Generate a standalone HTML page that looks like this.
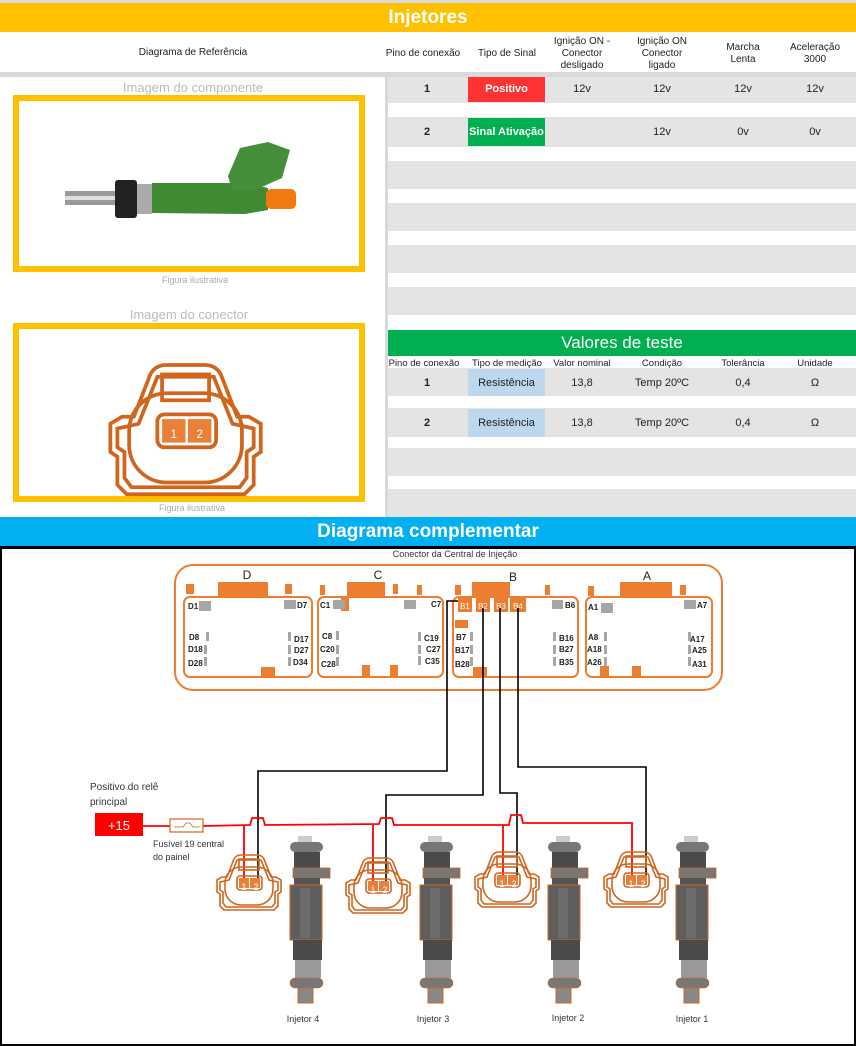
<!DOCTYPE html>
<html><head><meta charset="utf-8"><style>
*{margin:0;padding:0;box-sizing:border-box}
body{width:856px;height:1046px;position:relative;background:#fff;font-family:"Liberation Sans Narrow","Liberation Sans",sans-serif;overflow:hidden}
.a{position:absolute}
.c{position:absolute;text-align:center;font-size:10px;color:#222}
.g{background:#e4e4e4}
</style></head><body>
<div class="a" style="left:0;top:0;width:856px;height:3px;background:#d9d9d9"></div>
<div class="a" style="left:0;top:3px;width:856px;height:29px;background:#ffc000;color:#fff;font:bold 19px 'Liberation Sans',sans-serif;text-align:center;line-height:29px">Injetores</div>
<div class="a" style="left:0;top:72px;width:856px;height:5px;background:#d9d9d9"></div>
<div class="a" style="left:385px;top:72px;width:3px;height:446px;background:#d9d9d9"></div>
<div class="c" style="left:0;top:47px;width:386px">Diagrama de Referência</div>
<div class="c" style="left:385px;top:48px;width:76px">Pino de conexão</div>
<div class="c" style="left:468px;top:48px;width:78px">Tipo de Sinal</div>
<div class="c" style="left:546px;top:36px;width:72px;line-height:12px">Ignição ON -<br>Conector<br>desligado</div>
<div class="c" style="left:622px;top:36px;width:80px;line-height:12px">Ignição ON<br>Conector<br>ligado</div>
<div class="c" style="left:705px;top:42px;width:76px;line-height:12px">Marcha<br>Lenta</div>
<div class="c" style="left:780px;top:42px;width:70px;line-height:12px">Aceleração<br>3000</div>
<div class="a g" style="left:388px;top:77px;width:468px;height:26px"></div>
<div class="a g" style="left:388px;top:117px;width:468px;height:30px"></div>
<div class="a g" style="left:388px;top:161px;width:468px;height:28px"></div>
<div class="a g" style="left:388px;top:203px;width:468px;height:28px"></div>
<div class="a g" style="left:388px;top:245px;width:468px;height:28px"></div>
<div class="a g" style="left:388px;top:287px;width:468px;height:28px"></div>
<div class="a" style="left:468px;top:77px;width:77px;height:25px;background:#ff3333;color:#fff;font-size:11px;font-weight:bold;text-align:center;line-height:25px">Positivo</div>
<div class="a" style="left:468px;top:118px;width:77px;height:28px;background:#00b050;color:#fff;font-size:11px;font-weight:bold;text-align:center;line-height:28px">Sinal Ativação</div>
<div class="c" style="left:388px;top:83px;width:78px;font-weight:bold;font-size:11px">1</div>
<div class="c" style="left:546px;top:83px;width:72px;font-size:11px">12v</div>
<div class="c" style="left:622px;top:83px;width:80px;font-size:11px">12v</div>
<div class="c" style="left:705px;top:83px;width:76px;font-size:11px">12v</div>
<div class="c" style="left:780px;top:83px;width:70px;font-size:11px">12v</div>
<div class="c" style="left:388px;top:126px;width:78px;font-weight:bold;font-size:11px">2</div>
<div class="c" style="left:622px;top:126px;width:80px;font-size:11px">12v</div>
<div class="c" style="left:705px;top:126px;width:76px;font-size:11px">0v</div>
<div class="c" style="left:780px;top:126px;width:70px;font-size:11px">0v</div>
<div class="a" style="left:388px;top:330px;width:468px;height:26px;background:#00b050;color:#fff;font-size:17px;text-align:center;line-height:26px">Valores de teste</div>
<div class="a g" style="left:388px;top:368px;width:468px;height:28px"></div>
<div class="a g" style="left:388px;top:408px;width:468px;height:29px"></div>
<div class="a g" style="left:388px;top:448px;width:468px;height:28px"></div>
<div class="a g" style="left:388px;top:489px;width:468px;height:28px"></div>
<div class="c" style="left:385px;top:358px;width:78px;font-size:9.5px">Pino de conexão</div>
<div class="c" style="left:468px;top:358px;width:78px;font-size:9.5px">Tipo de medição</div>
<div class="c" style="left:546px;top:358px;width:72px;font-size:9.5px">Valor nominal</div>
<div class="c" style="left:622px;top:358px;width:80px;font-size:9.5px">Condição</div>
<div class="c" style="left:705px;top:358px;width:76px;font-size:9.5px">Tolerância</div>
<div class="c" style="left:780px;top:358px;width:70px;font-size:9.5px">Unidade</div>
<div class="a" style="left:468px;top:369px;width:77px;height:27px;background:#bdd7ee"></div>
<div class="a" style="left:468px;top:409px;width:77px;height:28px;background:#bdd7ee"></div>
<div class="c" style="left:388px;top:377px;width:78px;font-size:11px;font-weight:bold">1</div>
<div class="c" style="left:468px;top:377px;width:77px;font-size:11px">Resistência</div>
<div class="c" style="left:546px;top:377px;width:72px;font-size:11px">13,8</div>
<div class="c" style="left:622px;top:377px;width:80px;font-size:11px">Temp 20ºC</div>
<div class="c" style="left:705px;top:377px;width:76px;font-size:11px">0,4</div>
<div class="c" style="left:780px;top:377px;width:70px;font-size:11px">Ω</div>
<div class="c" style="left:388px;top:417px;width:78px;font-size:11px;font-weight:bold">2</div>
<div class="c" style="left:468px;top:417px;width:77px;font-size:11px">Resistência</div>
<div class="c" style="left:546px;top:417px;width:72px;font-size:11px">13,8</div>
<div class="c" style="left:622px;top:417px;width:80px;font-size:11px">Temp 20ºC</div>
<div class="c" style="left:705px;top:417px;width:76px;font-size:11px">0,4</div>
<div class="c" style="left:780px;top:417px;width:70px;font-size:11px">Ω</div>
<div class="c" style="left:0;top:80px;width:386px;font-size:13px;color:#bbb">Imagem do componente</div>
<div class="a" style="left:13px;top:95px;width:352px;height:177px;border:6px solid #ffc000"></div>
<div class="c" style="left:0;top:275px;width:390px;font-size:9px;color:#aaa">Figura ilustrativa</div>
<div class="c" style="left:0;top:307px;width:378px;font-size:13px;color:#bbb">Imagem do conector</div>
<div class="a" style="left:13px;top:323px;width:352px;height:179px;border:6px solid #ffc000"></div>
<div class="c" style="left:0;top:503px;width:384px;font-size:9px;color:#aaa">Figura ilustrativa</div>
<div class="a" style="left:0;top:517px;width:856px;height:30px;background:#00b0f0;color:#fff;font:bold 19px 'Liberation Sans',sans-serif;text-align:center;line-height:30px">Diagrama complementar</div>
<div class="a" style="left:0;top:546px;width:856px;height:500px;border:2px solid #000;border-top-width:3px"></div>
<svg class="a" style="left:0;top:0" width="856" height="1046" font-family="Liberation Sans,sans-serif">
<defs>
<g id="cn" fill="none" stroke="#d0651e" stroke-width="1.6">
<path d="M8,58 L4,54 L4,42 L1,40 L1,28 L6,25 L11,25 L18,7 Q20,3 25,3 L41,3 Q46,3 48,7 L55,25 L60,25 L65,28 L65,40 L62,42 L62,54 L58,58 Z"/>
<path d="M10,55 L7,51 L7,40 L4,38 L4,30 L13,28 L21,8 L45,8 L53,28 L62,30 L62,38 L59,40 L59,51 L56,55 Z"/>
<rect x="9" y="15" width="48" height="38" rx="16"/>
<rect x="23" y="7" width="20" height="11"/>
<rect x="21" y="24" width="25" height="14" rx="3"/>
<rect x="23" y="26" width="10" height="10" fill="#e8803a" stroke="none"/>
<rect x="34" y="26" width="10" height="10" fill="#e8803a" stroke="none"/>
</g>
<g id="inj">
<rect x="8" y="0" width="14" height="7" fill="#ccc"/>
<rect x="0" y="6" width="33" height="10" rx="5" fill="#777"/>
<rect x="4" y="16" width="26" height="18" fill="#4a4a4a"/>
<rect x="3" y="32" width="37" height="10" fill="#777" stroke="#d0651e" stroke-width=".8"/>
<rect x="4" y="42" width="26" height="8" fill="#555"/>
<rect x="0" y="49" width="32" height="55" fill="#5e5e5e" stroke="#d0651e" stroke-width="1"/>
<rect x="10" y="52" width="10" height="50" fill="#6c6c6c"/>
<rect x="3" y="104" width="29" height="20" fill="#4a4a4a"/>
<rect x="5" y="124" width="26" height="18" fill="#9a9a9a"/>
<rect x="0" y="142" width="33" height="10" rx="5" fill="#777" stroke="#d0651e" stroke-width=".6"/>
<rect x="8" y="152" width="15" height="15" fill="#888" stroke="#d0651e" stroke-width="1"/>
</g>
</defs>
<g>
<rect x="65" y="191" width="52" height="14" fill="#999"/><rect x="65" y="196" width="52" height="4" fill="#ddd"/>
<rect x="115" y="180" width="22" height="38" rx="3" fill="#222"/>
<rect x="137" y="184" width="15" height="30" fill="#aaa"/>
<path d="M152,183 L245,183 L268,188 L268,210 L245,214 L152,213 Z" fill="#3f8a33"/>
<path d="M228,176 L240,148 L268,142 L290,150 L282,178 L255,190 L232,190 Z" fill="#468f3a"/>
<rect x="266" y="189" width="30" height="20" rx="5" fill="#f07a10"/>
</g>
<g transform="translate(108,358) scale(2.35)"><use href="#cn"/><text x="28" y="34" font-size="5" fill="#fff" text-anchor="middle">1</text><text x="39" y="34" font-size="5" fill="#fff" text-anchor="middle">2</text></g>
<text x="455" y="557" font-size="9" text-anchor="middle" fill="#333">Conector da Central de Injeção</text>
<rect x="175" y="565" width="547" height="125" rx="18" fill="none" stroke="#ed7d31" stroke-width="2"/>
<g fill="none" stroke="#ed7d31" stroke-width="2">
<rect x="184" y="597" width="128" height="80" rx="6"/><rect x="318" y="597" width="125" height="80" rx="6"/>
<rect x="453" y="597" width="125" height="80" rx="6"/><rect x="586" y="597" width="126" height="80" rx="6"/>
</g>
<g fill="#ed7d31">
<rect x="186" y="584" width="8" height="10"/><rect x="218" y="582" width="50" height="14"/><rect x="285" y="584" width="7" height="10"/><rect x="261" y="667" width="14" height="10"/>
<rect x="320" y="585" width="5" height="10"/><rect x="347" y="582" width="38" height="14"/><rect x="341" y="597" width="8" height="14"/><rect x="393" y="584" width="5" height="10"/><rect x="417" y="585" width="5" height="10"/><rect x="362" y="665" width="8" height="12"/><rect x="390" y="665" width="8" height="12"/>
<rect x="455" y="585" width="6" height="10"/><rect x="472" y="582" width="38" height="14"/><rect x="510" y="597" width="8" height="14"/><rect x="545" y="585" width="5" height="10"/><rect x="473" y="667" width="14" height="10"/>
<rect x="588" y="586" width="6" height="10"/><rect x="620" y="582" width="52" height="14"/><rect x="680" y="585" width="6" height="10"/><rect x="600" y="666" width="9" height="11"/><rect x="632" y="666" width="9" height="11"/>
<rect x="458" y="598" width="14" height="14"/><rect x="476" y="598" width="14" height="14"/><rect x="494" y="598" width="14" height="14"/><rect x="510" y="598" width="16" height="14"/><rect x="455" y="620" width="13" height="8"/>
</g>
<g fill="#a6a6a6">
<rect x="199" y="601" width="12" height="10"/><rect x="284" y="600" width="12" height="9"/>
<rect x="206" y="632" width="3" height="9"/><rect x="204" y="645" width="3" height="9"/><rect x="204" y="657" width="3" height="9"/>
<rect x="288" y="632" width="3" height="9"/><rect x="288" y="645" width="3" height="9"/><rect x="288" y="657" width="3" height="9"/>
<rect x="333" y="600" width="12" height="9"/><rect x="404" y="600" width="12" height="9"/>
<rect x="336" y="631" width="3" height="9"/><rect x="336" y="645" width="3" height="9"/><rect x="336" y="657" width="3" height="9"/>
<rect x="418" y="632" width="3" height="9"/><rect x="418" y="645" width="3" height="9"/><rect x="418" y="656" width="3" height="9"/>
<rect x="552" y="600" width="11" height="9"/>
<rect x="470" y="632" width="3" height="9"/><rect x="470" y="645" width="3" height="9"/><rect x="470" y="657" width="3" height="9"/>
<rect x="553" y="632" width="3" height="9"/><rect x="553" y="645" width="3" height="9"/><rect x="553" y="657" width="3" height="9"/>
<rect x="601" y="603" width="12" height="10"/><rect x="684" y="600" width="12" height="9"/>
<rect x="604" y="632" width="3" height="9"/><rect x="604" y="645" width="3" height="9"/><rect x="604" y="657" width="3" height="9"/>
<rect x="688" y="632" width="3" height="9"/><rect x="688" y="645" width="3" height="9"/><rect x="688" y="657" width="3" height="9"/>
</g>
<g font-size="12" text-anchor="middle" fill="#222"><text x="247" y="579">D</text><text x="378" y="579">C</text><text x="513" y="581">B</text><text x="647" y="580">A</text></g>
<g font-size="8" font-weight="bold" fill="#222">
<text x="188" y="609">D1</text><text x="297" y="608">D7</text><text x="189" y="640">D8</text><text x="188" y="652">D18</text><text x="188" y="666">D28</text>
<text x="294" y="642">D17</text><text x="294" y="653">D27</text><text x="293" y="665">D34</text>
<text x="320" y="608">C1</text><text x="431" y="607">C7</text><text x="322" y="639">C8</text><text x="320" y="652">C20</text><text x="321" y="667">C28</text>
<text x="424" y="641">C19</text><text x="426" y="652">C27</text><text x="425" y="664">C35</text>
<text x="565" y="608">B6</text><text x="456" y="640">B7</text><text x="455" y="653">B17</text><text x="455" y="667">B28</text>
<text x="559" y="641">B16</text><text x="559" y="652">B27</text><text x="559" y="665">B35</text>
<text x="588" y="610">A1</text><text x="697" y="608">A7</text><text x="588" y="640">A8</text><text x="587" y="652">A18</text><text x="587" y="665">A26</text>
<text x="690" y="642">A17</text><text x="692" y="653">A25</text><text x="692" y="667">A31</text>
</g>
<g font-size="8" fill="#fff" text-anchor="middle"><text x="465" y="609">B1</text><text x="483" y="609">B2</text><text x="501" y="609">B3</text><text x="518" y="609">B4</text></g>
<g fill="none" stroke="#000" stroke-width="1.6">
<path d="M458,601 L447,601 L447,771 L258,771 L258,885"/>
<path d="M483,608 L483,795 L386,795 L386,888"/>
<path d="M500,608 L500,793 L517,793 L517,882"/>
<path d="M518,608 L518,767 L646,767 L646,882"/>
</g>
<g fill="none" stroke="#ff0000" stroke-width="1.8">
<path d="M143,826 L170,826 M203,826 L250,825 L252,818 L263,818 L265,825 L379,824 L381,818 L392,818 L394,825 L509,825 L511,815 L521,815 L523,823 L632,823 L632,882"/>
<path d="M244,825 L244,885 M373,825 L373,888 M503,825 L503,882"/>
</g>
<rect x="170" y="819" width="33" height="13" fill="#fff" stroke="#d0651e" stroke-width="1.2"/>
<path d="M174,827 L183,827 L186,823 L190,823 L193,827 L200,827" fill="none" stroke="#d0651e" stroke-width=".8"/>
<rect x="95" y="813" width="48" height="23" fill="#ff0000"/>
<text x="119" y="830" font-size="13" fill="#fff" text-anchor="middle">+15</text>
<text x="90" y="790" font-size="10" fill="#333">Positivo do relê</text>
<text x="90" y="805" font-size="10" fill="#333">principal</text>
<text x="153" y="847" font-size="9" fill="#333">Fusível 19 central</text>
<text x="153" y="860" font-size="9" fill="#333">do painel</text>
<g transform="translate(216,852)"><use href="#cn"/></g>
<g transform="translate(345,855)"><use href="#cn"/></g>
<g transform="translate(474,849)"><use href="#cn"/></g>
<g transform="translate(603,849)"><use href="#cn"/></g>
<g font-size="9" fill="#fff" text-anchor="middle">
<text x="244" y="890">1</text><text x="256" y="890">2</text>
<text x="373" y="893">1</text><text x="385" y="893">2</text>
<text x="502" y="887">1</text><text x="514" y="887">2</text>
<text x="631" y="887">1</text><text x="643" y="887">2</text>
</g>
<use href="#inj" x="290" y="836"/>
<use href="#inj" x="420" y="836"/>
<use href="#inj" x="548" y="836"/>
<use href="#inj" x="676" y="836"/>
<g font-size="9" fill="#333" text-anchor="middle"><text x="303" y="1022">Injetor 4</text><text x="433" y="1022">Injetor 3</text><text x="568" y="1021">Injetor 2</text><text x="692" y="1022">Injetor 1</text></g>
</svg>
</body></html>
